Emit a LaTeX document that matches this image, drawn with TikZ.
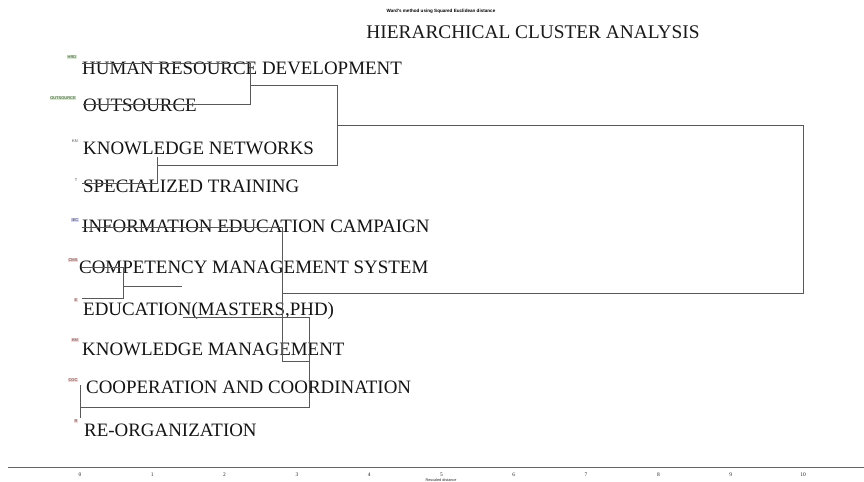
\documentclass[tikz,border=0pt]{standalone}
\usepackage{fontspec}
\setmainfont{Liberation Serif}
\newfontfamily\tagfont{Liberation Sans}
\definecolor{taggreen}{HTML}{D4EBCB}
\definecolor{tagblue}{HTML}{D6D6F7}
\definecolor{tagpink}{HTML}{F7D6D6}
\begin{document}
\begin{tikzpicture}[x=1bp,y=-1bp,
  lbl/.style={anchor=base west, inner sep=0pt, font=\fontsize{19}{19}\selectfont, text=black!92},
  tagbox/.style={inner sep=0.7bp, font=\tagfont\fontsize{4}{4}\selectfont, text=black!75},
  dline/.style={draw=black!65, line width=0.8bp},
  ax/.style={font=\fontsize{5.5}{5.5}\selectfont, inner sep=0pt, text=black!85}]
\useasboundingbox[fill=white] (0,0) rectangle (864,482);
% titles
\node[font=\tagfont\bfseries\fontsize{4.6}{5}\selectfont, inner sep=0pt] (sub) at (441,11) {Ward's method using Squared Euclidean distance};
\node[anchor=base, inner sep=0pt, font=\fontsize{19.4}{19.4}\selectfont, text=black!90] (title) at (533,39) {HIERARCHICAL CLUSTER ANALYSIS};
% row labels
\node[lbl] (hrd) at (82,75) {HUMAN RESOURCE DEVELOPMENT};
\node[lbl] (out) at (83,112) {OUTSOURCE};
\node[lbl] (kn) at (83,155) {KNOWLEDGE NETWORKS};
\node[lbl] (st) at (83,193) {SPECIALIZED TRAINING};
\node[lbl] (iec) at (82,233) {INFORMATION EDUCATION CAMPAIGN};
\node[lbl] (cms) at (79,274) {COMPETENCY MANAGEMENT SYSTEM};
\node[lbl] (edu) at (83,316) {EDUCATION(MASTERS,PHD)};
\node[lbl] (km) at (82,355) {KNOWLEDGE MANAGEMENT};
\node[lbl] (coc) at (86,393) {COOPERATION AND COORDINATION};
\node[lbl] (reo) at (84,436) {RE-ORGANIZATION};
% tags
\node[tagbox, fill=taggreen] (thrd) at (72,57) {HRD};
\node[tagbox, fill=taggreen] (tout) at (63,98) {OUTSOURCE};
\node[tagbox] (tkn) at (75,141) {KN};
\node[tagbox] (tst) at (76,180) {T};
\node[tagbox, fill=tagblue] (tiec) at (75,220) {IEC};
\node[tagbox, fill=tagpink] (tcms) at (73,260) {CMS};
\node[tagbox, fill=tagpink] (tedu) at (76,300) {E};
\node[tagbox, fill=tagpink] (tkm) at (75,340) {KM};
\node[tagbox, fill=tagpink] (tcoc) at (73,380) {COC};
\node[tagbox, fill=tagpink] (treo) at (76,421) {R};
% dendrogram joints
\coordinate (a1) at (82,63);  \coordinate (a2) at (250,63);
\coordinate (a3) at (250,104); \coordinate (a4) at (83,104);
\coordinate (b1) at (250,85); \coordinate (b2) at (337,85);
\coordinate (b3) at (337,165); \coordinate (b4) at (157,165);
\coordinate (c1) at (157,157); \coordinate (c2) at (157,183); \coordinate (c3) at (82,183);
\coordinate (d1) at (337,125); \coordinate (d2) at (803,125);
\coordinate (d3) at (803,293); \coordinate (d4) at (282,293);
\coordinate (e1) at (82,227); \coordinate (e2) at (282,227);
\coordinate (e3) at (282,361); \coordinate (e4) at (309,361);
\coordinate (f1) at (183,317); \coordinate (f2) at (309,317);
\coordinate (f3) at (309,407); \coordinate (f4) at (80,407);
\coordinate (g1) at (80,385); \coordinate (g2) at (80,418);
\coordinate (h1) at (82,267); \coordinate (h2) at (123,267);
\coordinate (h3) at (123,298); \coordinate (h4) at (82,298);
\coordinate (i1) at (123,286); \coordinate (i2) at (182,286);
\draw[dline] (a1) -- (a2) -- (a3) -- (a4);
\draw[dline] (b1) -- (b2) -- (b3) -- (b4);
\draw[dline] (c1) -- (c2) -- (c3);
\draw[dline] (d1) -- (d2) -- (d3) -- (d4);
\draw[dline] (e1) -- (e2) -- (e3) -- (e4);
\draw[dline] (f1) -- (f2) -- (f3) -- (f4);
\draw[dline] (g1) -- (g2);
\draw[dline] (h1) -- (h2) -- (h3) -- (h4);
\draw[dline] (i1) -- (i2);
% axis
\coordinate (axL) at (8,467); \coordinate (axR) at (864,467);
\draw[draw=black!60, line width=0.9bp] (axL) -- (axR);
\foreach \k in {0,...,10} {
  \node[ax] (t\k) at ({80+72.3*\k},475) {\k};
}
\node[ax, font=\tagfont\fontsize{3.8}{4}\selectfont] (axt) at (441,480.5) {Rescaled distance};
\end{tikzpicture}
\end{document}
